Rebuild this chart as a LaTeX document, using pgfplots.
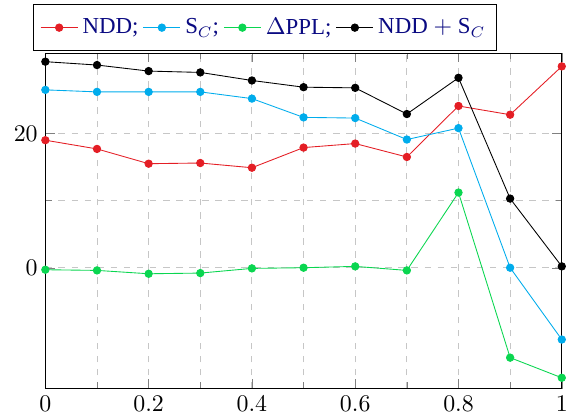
\documentclass[border=0pt]{standalone}
\usepackage{fontspec}
\setmainfont{Liberation Serif}
\usepackage{pgfplots}
\pgfplotsset{compat=1.18}
\definecolor{cred}{RGB}{228,30,37}
\definecolor{cblue}{RGB}{0,172,236}
\definecolor{cgreen}{RGB}{10,214,80}
\definecolor{navy}{RGB}{10,10,130}
\begin{document}
\begin{tikzpicture}
\begin{axis}[scale only axis,width=237pt,height=154pt,
  xmin=0,xmax=1,ymin=-18,ymax=32,
  xtick={0,0.2,0.4,0.6,0.8,1},ytick={0,20},
  minor x tick num=1,minor y tick num=1,
  grid=both,grid style={dashed,gray!45},minor grid style={dashed,gray!45},
  every axis plot/.append style={thin,mark=*,mark size=1.7pt},
  legend columns=-1,
  legend style={at={(0.425,1.006)},anchor=south,font=\fontsize{10.5}{13}\selectfont,
    text=navy,inner ysep=4pt},
  tick label style={font=\fontsize{11}{13}\selectfont}]
\addplot[cred,mark options={fill=cred}] coordinates {(0,19.0)(0.1,17.7)(0.2,15.5)(0.3,15.6)(0.4,14.9)(0.5,17.9)(0.6,18.5)(0.7,16.5)(0.8,24.1)(0.9,22.8)(1,30.0)};
\addplot[cblue,mark options={fill=cblue}] coordinates {(0,26.5)(0.1,26.2)(0.2,26.2)(0.3,26.2)(0.4,25.2)(0.5,22.4)(0.6,22.3)(0.7,19.1)(0.8,20.8)(0.9,0.0)(1,-10.7)};
\addplot[cgreen,mark options={fill=cgreen}] coordinates {(0,-0.3)(0.1,-0.4)(0.2,-0.9)(0.3,-0.8)(0.4,-0.1)(0.5,0.0)(0.6,0.2)(0.7,-0.4)(0.8,11.2)(0.9,-13.4)(1,-16.4)};
\addplot[black,mark options={fill=black}] coordinates {(0,30.7)(0.1,30.2)(0.2,29.3)(0.3,29.1)(0.4,27.9)(0.5,26.9)(0.6,26.8)(0.7,22.9)(0.8,28.3)(0.9,10.3)(1,0.2)};
\legend{NDD;,S$_C$;,$\Delta$PPL;,NDD $+$ S$_C$}
\end{axis}
\path ([xshift=-3pt]current bounding box.west) -- ([yshift=2pt]current bounding box.north east);
\end{tikzpicture}
\end{document}
